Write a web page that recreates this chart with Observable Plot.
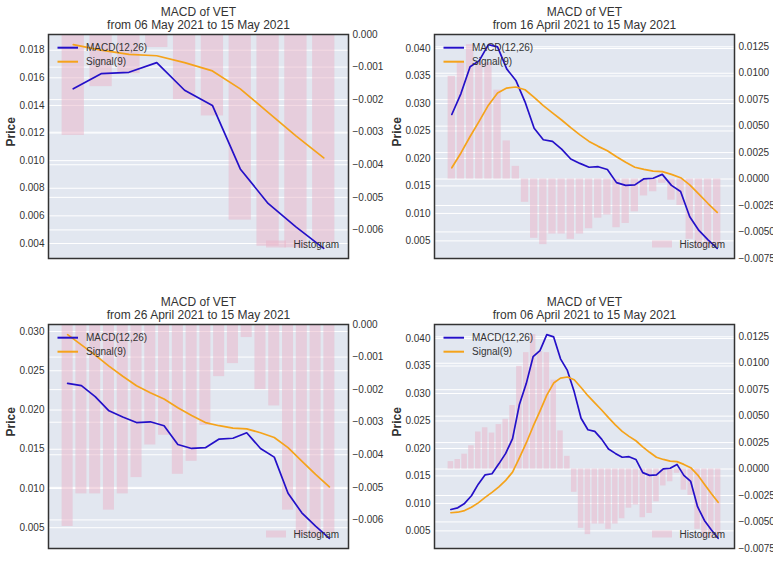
<!DOCTYPE html>
<html><head><meta charset="utf-8">
<script src="https://cdn.jsdelivr.net/npm/d3@7"></script>
<script src="https://cdn.jsdelivr.net/npm/@observablehq/plot@0.6"></script>
<style>
body{margin:0;background:#fff;font-family:"Liberation Sans",Arial,sans-serif;}
#root{position:relative;width:773px;height:580px;overflow:hidden;}
.panel{position:absolute;width:386px;height:290px;}
.panel svg{position:absolute;left:0;top:0;}
</style></head><body><div id="root"></div>
<script>
// ---- data (06 April 2021 .. 15 May 2021) ----
const dates = ["2021-04-06","2021-04-07","2021-04-08","2021-04-09","2021-04-10","2021-04-11","2021-04-12","2021-04-13","2021-04-14","2021-04-15",
"2021-04-16","2021-04-17","2021-04-18","2021-04-19","2021-04-20","2021-04-21","2021-04-22","2021-04-23","2021-04-24","2021-04-25",
"2021-04-26","2021-04-27","2021-04-28","2021-04-29","2021-04-30","2021-05-01","2021-05-02","2021-05-03","2021-05-04","2021-05-05",
"2021-05-06","2021-05-07","2021-05-08","2021-05-09","2021-05-10","2021-05-11","2021-05-12","2021-05-13","2021-05-14","2021-05-15"];
const macd = [0.0089,0.0092,0.0100,0.0114,0.0135,0.0152,0.0154,0.0172,0.0191,0.0218,
0.0280,0.0318,0.0367,0.0378,0.0407,0.0403,0.0363,0.0342,0.0303,0.0255,
0.0234,0.0231,0.0217,0.0199,0.0191,0.0184,0.0185,0.0180,0.0156,0.0151,
0.0152,0.0163,0.0164,0.0171,0.0151,0.0140,0.0094,0.0069,0.0052,0.00365];
const signal = [0.0083,0.0084,0.0087,0.0093,0.0101,0.0111,0.0120,0.0130,0.0142,0.0157,
0.0183,0.0210,0.0240,0.0268,0.0297,0.0319,0.0328,0.0330,0.0325,0.0311,
0.0296,0.0283,0.0270,0.0256,0.0243,0.0231,0.0222,0.0214,0.0203,0.0193,
0.0184,0.0180,0.0177,0.0176,0.0171,0.0165,0.0152,0.0135,0.0118,0.0102];
const hist = [0.0007,0.0009,0.0014,0.0022,0.0035,0.0039,0.0034,0.0042,0.0047,0.0060,
0.0097,0.0110,0.0127,0.0111,0.0110,0.0084,0.0036,0.0012,-0.0022,-0.0056,
-0.0062,-0.0052,-0.0052,-0.0057,-0.0052,-0.0047,-0.0037,-0.0034,-0.0046,-0.0042,
-0.0031,-0.0016,-0.0012,-0.0004,-0.0020,-0.0025,-0.0057,-0.0065,-0.00655,-0.0064];

const ticksLeftA = [0.004,0.006,0.008,0.010,0.012,0.014,0.016,0.018];
const ticksLeftB = [0.005,0.010,0.015,0.020,0.025,0.030,0.035,0.040];
const ticksLeftC = [0.005,0.010,0.015,0.020,0.025,0.030];
const ticksRightA = [0,-0.001,-0.002,-0.003,-0.004,-0.005,-0.006];
const ticksRightB = [-0.0075,-0.005,-0.0025,0,0.0025,0.005,0.0075,0.01,0.0125];

const panelDefs = [
  {n:10, sub:"from 06 May 2021 to 15 May 2021", left:ticksLeftA, right:ticksRightA, rfmt:".3f", pos:[0,0]},
  {n:30, sub:"from 16 April 2021 to 15 May 2021", left:ticksLeftB, right:ticksRightB, rfmt:".4f", pos:[386,0]},
  {n:20, sub:"from 26 April 2021 to 15 May 2021", left:ticksLeftC, right:ticksRightA, rfmt:".3f", pos:[0,290]},
  {n:40, sub:"from 06 April 2021 to 15 May 2021", left:ticksLeftB, right:ticksRightB, rfmt:".4f", pos:[386,290]}
];

// ---- style ----
const W = 386, H = 290, mL = 48, mR = 38, mT = 34, mB = 32;
const BG = "#e2e7f0", BAR = "#eab4c8", BAROP = 0.5, BLUE = "#2410c8", ORANGE = "#f5a31a", TXT = "#333";
const FONT = "Liberation Sans, Arial, sans-serif";
const DAY = 864e5;

const rowsAll = dates.map((d, i) => ({date: new Date(d), macd: macd[i], signal: signal[i], hist: hist[i]}));
const root = document.getElementById("root");

for (const p of panelDefs) {
  const rows = rowsAll.slice(rowsAll.length - p.n);
  const first = +rows[0].date, last = +rows[rows.length - 1].date;
  const span = (p.n - 0.2) * DAY;
  const xDom = [new Date(first - 0.4 * DAY - 0.05 * span), new Date(last + 0.4 * DAY + 0.05 * span)];
  const vals = rows.flatMap(r => [r.macd, r.signal]);
  const lo = d3.min(vals), hi = d3.max(vals), r = hi - lo;
  const leftDom = [lo - 0.05 * r, hi + 0.05 * r];
  const hlo = Math.min(0, d3.min(rows, r => r.hist)), hhi = Math.max(0, d3.max(rows, r => r.hist)), hr = hhi - hlo;
  const rightDom = [hlo < 0 ? hlo - 0.05 * hr : 0, hhi > 0 ? hhi + 0.05 * hr : 0];

  const base = {
    width: W, height: H, marginLeft: mL, marginRight: mR, marginTop: mT, marginBottom: mB,
    style: {background: "transparent", fontFamily: FONT, fontSize: "10px", color: TXT, overflow: "visible"},
    x: {type: "utc", domain: xDom, axis: null}
  };

  const div = document.createElement("div");
  div.className = "panel";
  div.style.left = p.pos[0] + "px";
  div.style.top = p.pos[1] + "px";
  root.appendChild(div);

  const layerA = Plot.plot({...base,
    y: {domain: leftDom, axis: null},
    marks: [
      Plot.frame({fill: BG}),
      Plot.gridY(p.left, {stroke: "#fff", strokeOpacity: 1, strokeWidth: 1}),
      Plot.axisY(p.left, {anchor: "left", label: null, tickSize: 0, tickPadding: 4, tickFormat: d3.format(".3f"), fill: TXT, fontSize: 10}),
      Plot.text(["Price"], {text: d => d, frameAnchor: "left", dx: -37.5, rotate: -90, fontWeight: "bold", fontSize: 12, fill: TXT}),
      Plot.text(["MACD of VET"], {text: d => d, frameAnchor: "top", lineAnchor: "middle", dy: -22, fontSize: 12, fill: TXT}),
      Plot.text([p.sub], {text: d => d, frameAnchor: "top", lineAnchor: "middle", dy: -9, fontSize: 12, fill: TXT})
    ]
  });
  const layerB = Plot.plot({...base,
    y: {domain: rightDom, axis: null},
    marks: [
      Plot.gridY(p.right, {stroke: "#fff", strokeOpacity: 1, strokeWidth: 1}),
      Plot.rect(rows, {x1: d => new Date(+d.date - 0.4 * DAY), x2: d => new Date(+d.date + 0.4 * DAY), y1: 0, y2: "hist", fill: BAR, fillOpacity: BAROP}),
      Plot.axisY(p.right, {anchor: "right", label: null, tickSize: 0, tickPadding: 4, tickFormat: d3.format(p.rfmt), fill: TXT, fontSize: 10})
    ]
  });
  const layerC = Plot.plot({...base,
    y: {domain: leftDom, axis: null},
    marks: [
      Plot.line(rows, {x: "date", y: "macd", stroke: BLUE, strokeWidth: 1.7}),
      Plot.line(rows, {x: "date", y: "signal", stroke: ORANGE, strokeWidth: 1.7}),
      Plot.frame({stroke: "#333", strokeWidth: 1.5})
    ]
  });
  div.appendChild(layerA);
  div.appendChild(layerB);
  div.appendChild(layerC);

  // legends
  const svg = d3.select(div).append("svg").attr("width", W).attr("height", H)
    .style("font-family", FONT).style("font-size", "10px");
  const items = [["MACD(12,26)", BLUE, 13.7], ["Signal(9)", ORANGE, 27.7]];
  for (const [lab, col, dy] of items) {
    svg.append("line").attr("x1", mL + 9.5).attr("x2", mL + 30).attr("y1", mT + dy).attr("y2", mT + dy)
      .attr("stroke", col).attr("stroke-width", 2);
    svg.append("text").attr("x", mL + 38).attr("y", mT + dy).attr("dy", "0.35em").attr("fill", TXT).text(lab);
  }
  const yb = H - mB - 14;
  svg.append("rect").attr("x", W - mR - 82).attr("y", yb - 3.5).attr("width", 20).attr("height", 7)
    .attr("fill", BAR).attr("fill-opacity", BAROP);
  svg.append("text").attr("x", W - mR - 54.5).attr("y", yb).attr("dy", "0.35em").attr("fill", TXT).text("Histogram");
}
</script></body></html>
